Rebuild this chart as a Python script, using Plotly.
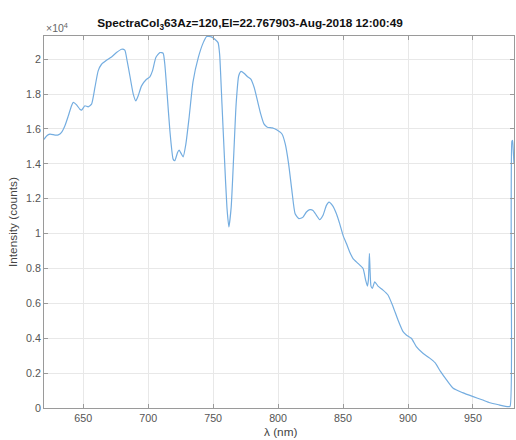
import plotly.graph_objects as go

# Wavelength (nm) and intensity (counts)
wavelength = [
    619.8, 621.8, 624.4, 628.2, 630.8, 633.3, 635.9, 638.5, 641.0, 642.3,
    644.9, 647.4, 648.7, 651.3, 653.8, 656.4, 659.0, 661.5, 664.1, 667.9,
    671.8, 675.6, 679.5, 682.0, 683.8, 685.9, 688.5, 690.5, 692.3, 694.9,
    698.7, 701.3, 703.3, 705.9, 709.0, 711.5, 712.8, 714.6, 716.7, 719.2,
    720.5, 722.6, 723.8, 725.6, 726.9, 729.0, 731.5, 734.5, 738.6, 742.4,
    745.0, 748.7, 751.3, 753.8, 755.0, 756.8, 758.8, 760.6, 762.1, 763.9,
    765.9, 767.7, 769.7, 771.5, 774.0, 776.5, 779.0, 781.6, 784.1, 786.6,
    789.1, 791.7, 795.5, 799.2, 803.0, 805.5, 808.1, 810.6, 813.1, 816.0,
    819.0, 821.8, 824.4, 826.9, 829.5, 832.0, 834.6, 837.2, 839.2, 841.8,
    844.9, 847.4, 850.0, 852.6, 855.1, 857.7, 861.5, 865.4, 867.4, 868.7,
    869.5, 870.3, 870.8, 871.5, 872.6, 874.4, 876.9, 880.8, 884.6, 888.5,
    892.3, 896.2, 898.7, 902.6, 906.4, 911.5, 916.7, 920.8, 925.0, 929.8,
    934.8, 942.0, 950.2, 957.0, 963.0, 970.0, 977.0, 978.6, 979.4, 980.0,
    980.5, 981.0, 981.6,
]
intensity = [
    15400, 15600, 15700, 15650, 15660, 15800, 16180, 16750, 17330, 17520,
    17380, 17130, 17080, 17330, 17270, 17420, 18380, 19330, 19710, 19940,
    20130, 20380, 20570, 20520, 19900, 19050, 18000, 17610, 17900, 18470,
    18850, 18990, 19330, 20100, 20380, 20340, 19710, 18000, 15900, 14270,
    14180, 14650, 14790, 14560, 14400, 15130, 16660, 18700, 20100, 20950,
    21300, 21280, 21140, 20950, 20290, 17430, 14190, 11520, 10380, 11520,
    14570, 17430, 19050, 19300, 19180, 18990, 18860, 18380, 17620, 16860,
    16290, 16100, 16060, 15940, 15710, 15140, 14000, 12480, 11140, 10860,
    10930, 11240, 11370, 11330, 11050, 10800, 11050, 11620, 11810, 11620,
    11140, 10570, 9900, 9430, 8950, 8570, 8290, 8000, 7330, 6990,
    7330, 8860, 7900, 6990, 6860, 7240, 6990, 6760, 6480, 5810,
    5050, 4380, 4190, 4000, 3520, 3140, 2860, 2600, 2100, 1600,
    1130, 880, 650, 470, 300, 180, 75, 100, 9000, 15300,
    15350, 14800, 14000,
]

x_ticks = [650, 700, 750, 800, 850, 900, 950]
y_ticks = [0, 2000, 4000, 6000, 8000, 10000, 12000, 14000, 16000, 18000, 20000]
y_tick_labels = ["0", "0.2", "0.4", "0.6", "0.8", "1", "1.2", "1.4", "1.6", "1.8", "2"]

title_text = "SpectraCol<sub>3</sub>63Az=120,El=22.767903-Aug-2018 12:00:49"

FONT = "Liberation Sans, Arial, sans-serif"

fig = go.Figure()
fig.add_trace(go.Scatter(
    x=wavelength, y=intensity, mode="lines",
    line=dict(color="#74ade0", width=1.2, shape="spline", smoothing=0.5),
    showlegend=False, hoverinfo="skip",
))

axis_common = dict(
    showgrid=True, gridcolor="#e8e8e8", gridwidth=1,
    showline=True, linecolor="#9a9a9a", linewidth=1, mirror="ticks",
    ticks="inside", ticklen=4, tickcolor="#9a9a9a",
    tickfont=dict(family=FONT, size=10.7, color="#555555"),
    zeroline=False,
)

fig.update_layout(
    width=516, height=440,
    margin=dict(l=44, r=2, t=36, b=32),
    paper_bgcolor="white", plot_bgcolor="white",
    title=dict(
        text=title_text, x=250/516, xanchor="center", y=1 - 23/440, yanchor="middle",
        font=dict(family=FONT, size=11.8, color="#111111", weight="bold"),
    ),
    xaxis=dict(range=[619.8, 981.6], tickvals=x_ticks, **axis_common),
    yaxis=dict(range=[0, 21330], tickvals=y_ticks, ticktext=y_tick_labels, **axis_common),
    annotations=[
        dict(text="×10<sup>4</sup>", xref="paper", yref="paper", x=0.0, y=1.0,
             xanchor="left", yanchor="bottom", yshift=0, showarrow=False,
             font=dict(family=FONT, size=10.5, color="#666666")),
        dict(text="Intensity (counts)", xref="paper", yref="paper", x=(13 - 44) / 470, y=0.5,
             xanchor="center", yanchor="middle", textangle=-90, showarrow=False,
             font=dict(family=FONT, size=11.8, color="#444444")),
        dict(text="λ (nm)", xref="paper", yref="paper", x=(280 - 44) / 470, y=-(432 - 408) / 372,
             xanchor="center", yanchor="middle", showarrow=False,
             font=dict(family=FONT, size=11.8, color="#444444")),
    ],
)

fig.write_html(
    "out.html",
    config={"displayModeBar": False, "staticPlot": True},
    post_script="document.body.style.margin='0';document.body.style.overflow='hidden';",
)
